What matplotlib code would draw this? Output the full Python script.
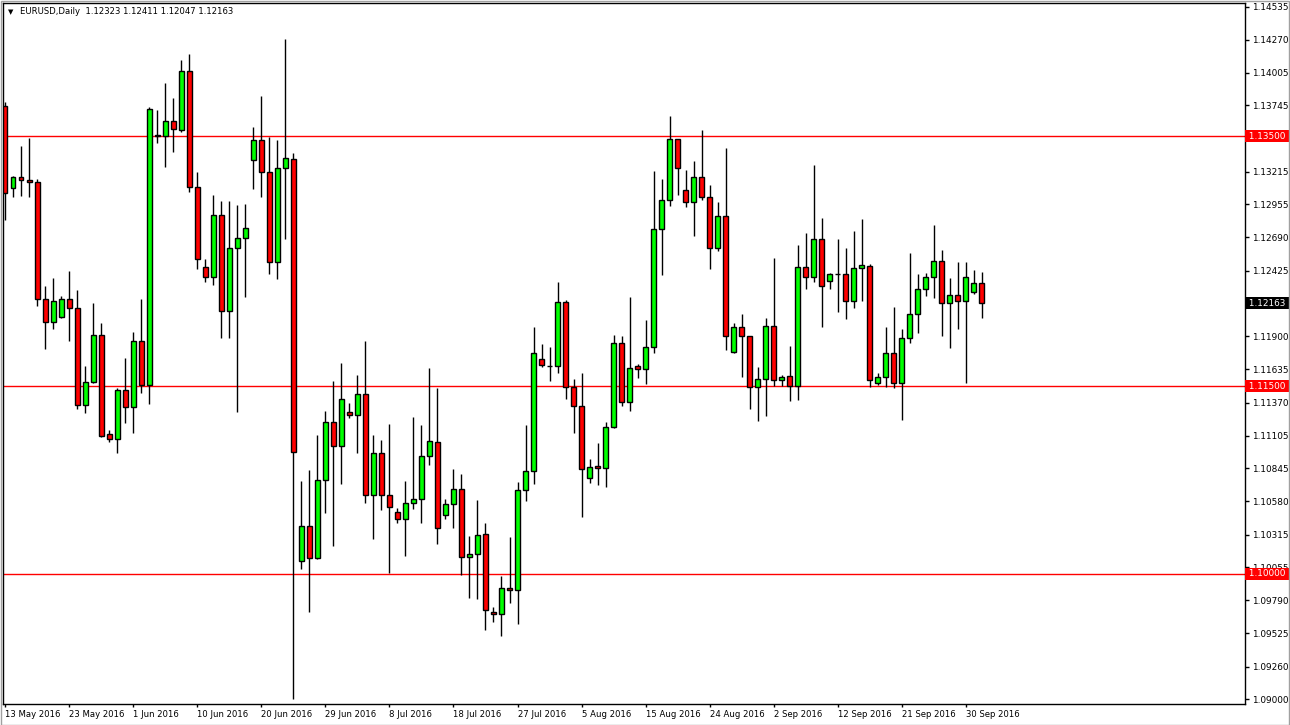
import matplotlib
matplotlib.use("Agg")
import matplotlib.pyplot as plt
from matplotlib.patches import Rectangle

# ---- data (EURUSD daily) ----
opens = [1.13740, 1.13082, 1.13170, 1.13148, 1.13130, 1.12195, 1.12011, 1.12056, 1.12195, 1.12123,
         1.11348, 1.11534, 1.11910, 1.11116, 1.11079, 1.11470, 1.11332, 1.11864, 1.11508, 1.13506,
         1.13502, 1.13620, 1.13548, 1.14017, 1.13090, 1.12452, 1.12376, 1.12872, 1.12100, 1.12602,
         1.12687, 1.13306, 1.13466, 1.13210, 1.12493, 1.13247, 1.13315, 1.10104, 1.10386, 1.10125,
         1.10749, 1.11215, 1.11020, 1.11292, 1.11268, 1.11438, 1.10629, 1.10964, 1.10629, 1.10493,
         1.10437, 1.10565, 1.10597, 1.10940, 1.11052, 1.10469, 1.10557, 1.10677, 1.10133, 1.10157,
         1.10320, 1.09694, 1.09678, 1.09886, 1.09870, 1.10669, 1.10821, 1.11716, 1.11662, 1.11662,
         1.12171, 1.11492, 1.11340, 1.10765, 1.10861, 1.10845, 1.11172, 1.11843, 1.11372, 1.11660,
         1.11636, 1.11811, 1.12754, 1.12989, 1.13474, 1.13066, 1.12970, 1.13170, 1.13010, 1.12603,
         1.12858, 1.11772, 1.11971, 1.11899, 1.11492, 1.11556, 1.11979, 1.11553, 1.11580, 1.11500,
         1.12451, 1.12376, 1.12675, 1.12344, 1.12395, 1.12395, 1.12184, 1.12443, 1.12459, 1.11524,
         1.11572, 1.11764, 1.11524, 1.11883, 1.12075, 1.12275, 1.12371, 1.12499, 1.12163, 1.12227,
         1.12179, 1.12256, 1.12323]

highs = [1.13774, 1.13180, 1.13420, 1.13482, 1.13154, 1.12301, 1.12363, 1.12221, 1.12421, 1.12269,
         1.11662, 1.12168, 1.12003, 1.11151, 1.11484, 1.11724, 1.11931, 1.12197, 1.13729, 1.13708,
         1.13926, 1.13801, 1.14107, 1.14155, 1.13210, 1.12520, 1.13029, 1.12981, 1.12981, 1.12947,
         1.12957, 1.13569, 1.13818, 1.13494, 1.13466, 1.14279, 1.13367, 1.10743, 1.10831, 1.11111,
         1.11302, 1.11542, 1.11688, 1.11364, 1.11590, 1.11862, 1.11108, 1.11071, 1.11199, 1.10525,
         1.10743, 1.11257, 1.11191, 1.11644, 1.11484, 1.10597, 1.10841, 1.10797, 1.10304, 1.10591,
         1.10405, 1.09739, 1.09984, 1.10298, 1.10735, 1.11191, 1.11971, 1.11838, 1.11811, 1.12331,
         1.12189, 1.11556, 1.11604, 1.10917, 1.11047, 1.11217, 1.11907, 1.11902, 1.12211, 1.11678,
         1.12030, 1.13223, 1.13156, 1.13660, 1.13474, 1.13228, 1.13300, 1.13548, 1.13108, 1.12975,
         1.13402, 1.12008, 1.12078, 1.11899, 1.11656, 1.12043, 1.12527, 1.11590, 1.11822, 1.12629,
         1.12722, 1.13268, 1.12842, 1.12408, 1.12677, 1.12603, 1.12743, 1.12834, 1.12477, 1.11604,
         1.11976, 1.12136, 1.11958, 1.12563, 1.12395, 1.12403, 1.12789, 1.12589, 1.12363, 1.12491,
         1.12496, 1.12429, 1.12411]

lows = [1.12829, 1.13010, 1.13021, 1.13010, 1.12142, 1.11795, 1.11955, 1.12048, 1.11864, 1.11316,
        1.11284, 1.11524, 1.11097, 1.11057, 1.10969, 1.11209, 1.11129, 1.11444, 1.11356, 1.13442,
        1.13250, 1.13375, 1.13534, 1.13050, 1.12437, 1.12332, 1.12312, 1.11882, 1.11888, 1.11298,
        1.12213, 1.13073, 1.13015, 1.12394, 1.12360, 1.12681, 1.09003, 1.10037, 1.09699, 1.10117,
        1.10485, 1.10226, 1.10717, 1.11244, 1.10964, 1.10570, 1.10282, 1.10511, 1.10010, 1.10410,
        1.10146, 1.10517, 1.10410, 1.10871, 1.10237, 1.10437, 1.10365, 1.09990, 1.09806, 1.09798,
        1.09552, 1.09619, 1.09504, 1.09771, 1.09600, 1.10586, 1.10717, 1.11652, 1.11545, 1.11609,
        1.11401, 1.11129, 1.10453, 1.10725, 1.10715, 1.10698, 1.11164, 1.11345, 1.11305, 1.11564,
        1.11518, 1.11768, 1.12389, 1.12941, 1.13029, 1.12935, 1.12701, 1.12989, 1.12437, 1.12583,
        1.11790, 1.11764, 1.11572, 1.11316, 1.11225, 1.11265, 1.11505, 1.11502, 1.11385, 1.11390,
        1.12275, 1.12336, 1.11976, 1.12275, 1.12096, 1.12035, 1.12128, 1.12184, 1.11492, 1.11510,
        1.11497, 1.11484, 1.11231, 1.11843, 1.11928, 1.12224, 1.12203, 1.11904, 1.11808, 1.11958,
        1.11524, 1.12235, 1.12047]

closes = [1.13042, 1.13170, 1.13146, 1.13130, 1.12195, 1.12011, 1.12184, 1.12195, 1.12123, 1.11348,
          1.11537, 1.11910, 1.11105, 1.11076, 1.11470, 1.11332, 1.11864, 1.11508, 1.13713, 1.13498,
          1.13620, 1.13554, 1.14017, 1.13090, 1.12515, 1.12376, 1.12869, 1.12100, 1.12602, 1.12687,
          1.12762, 1.13466, 1.13210, 1.12493, 1.13247, 1.13323, 1.10976, 1.10386, 1.10125, 1.10749,
          1.11215, 1.11020, 1.11396, 1.11268, 1.11438, 1.10629, 1.10964, 1.10629, 1.10533, 1.10437,
          1.10565, 1.10597, 1.10940, 1.11063, 1.10365, 1.10557, 1.10677, 1.10133, 1.10157, 1.10312,
          1.09712, 1.09678, 1.09886, 1.09870, 1.10669, 1.10821, 1.11764, 1.11668, 1.11662, 1.12171,
          1.11492, 1.11340, 1.10837, 1.10857, 1.10845, 1.11172, 1.11843, 1.11372, 1.11644, 1.11636,
          1.11811, 1.12754, 1.12989, 1.13474, 1.13242, 1.12970, 1.13170, 1.13010, 1.12603, 1.12858,
          1.11904, 1.11971, 1.11899, 1.11492, 1.11556, 1.11979, 1.11548, 1.11572, 1.11500, 1.12451,
          1.12376, 1.12675, 1.12304, 1.12395, 1.12395, 1.12184, 1.12443, 1.12467, 1.11553, 1.11572,
          1.11764, 1.11524, 1.11883, 1.12075, 1.12275, 1.12371, 1.12499, 1.12163, 1.12227, 1.12179,
          1.12371, 1.12323, 1.12163]

date_labels = ["13 May 2016", "23 May 2016", "1 Jun 2016", "10 Jun 2016", "20 Jun 2016",
               "29 Jun 2016", "8 Jul 2016", "18 Jul 2016", "27 Jul 2016", "5 Aug 2016",
               "15 Aug 2016", "24 Aug 2016", "2 Sep 2016", "12 Sep 2016", "21 Sep 2016",
               "30 Sep 2016"]
bars_per_label = 8

# price grid of the right scale; those hidden behind the boxed labels carry no text
price_ticks = [1.14535, 1.14270, 1.14005, 1.13745, 1.13480, 1.13215, 1.12955, 1.12690, 1.12425,
               1.12160, 1.11900, 1.11635, 1.11370, 1.11105, 1.10845, 1.10580, 1.10315, 1.10055,
               1.09790, 1.09525, 1.09260, 1.09000]
hidden_ticks = [1.13480, 1.12160]
levels = [1.13500, 1.11500, 1.10000]
symbol_title = "EURUSD,Daily"

# ---- figure ----
W, H = 1290, 725
fig = plt.figure(figsize=(W / 100, H / 100), dpi=100)
fig.patch.set_facecolor("white")
L, R, T, B = 3, 1245, 3, 704
ax = fig.add_axes([L / W, 1 - B / H, (R - L) / W, (B - T) / H])
ax.set_facecolor("white")

n = len(opens)
xs = list(range(n))
px_per_bar = 8.008
ax.set_xlim((L - 5) / px_per_bar, (R - 5) / px_per_bar)
ax.set_ylim(1.08961, 1.14563)

# level lines
for lv in levels:
    ax.axhline(lv, color="#ff0000", lw=1.0, zorder=1)

# wicks
ax.vlines(xs, lows, highs, color="black", lw=1.0, zorder=2)

# bodies
bw = 0.62
for i in xs:
    o, c = opens[i], closes[i]
    lo = min(o, c)
    h = abs(c - o)
    if h < 1e-7:
        ax.hlines(o, i - bw / 2, i + bw / 2, color="black", lw=1.0, zorder=3)
        continue
    fc = "#00ff00" if c > o else "#ff0000"
    ax.add_patch(Rectangle((i - bw / 2, lo), bw, h, facecolor=fc,
                           edgecolor="black", lw=1.0, zorder=3))

# frame
for s in ax.spines.values():
    s.set_color("black")
    s.set_linewidth(1.0)

FS = 6.4

# y axis on right
ax.yaxis.tick_right()
ax.set_yticks(price_ticks)
ax.set_yticklabels(["" if p in hidden_ticks else f"{p:.5f}" for p in price_ticks])
ax.tick_params(axis="y", direction="out", length=3, width=1, pad=2,
               labelsize=FS, colors="black")

# x axis dates
tick_pos = [k * bars_per_label for k in range(len(date_labels))]
ax.set_xticks(tick_pos)
ax.set_xticklabels(date_labels)
ax.tick_params(axis="x", direction="out", length=2, width=1, pad=2,
               labelsize=6.1, colors="black")
for lab in ax.get_xticklabels():
    lab.set_ha("left")

# boxed price labels
ytr = ax.get_yaxis_transform()
for lv in levels:
    ax.text(1.0008, lv, f" {lv:.5f} ", transform=ytr, ha="left", va="center",
            fontsize=FS, color="white", clip_on=False, zorder=10,
            bbox=dict(boxstyle="square,pad=0.16", fc="#ff0000", ec="none"))
last = closes[-1]
ax.text(1.0008, last, f" {last:.5f} ", transform=ytr, ha="left", va="center",
        fontsize=FS, color="white", clip_on=False, zorder=10,
        bbox=dict(boxstyle="square,pad=0.16", fc="black", ec="none"))

# header
ax.text((8 - L) / (R - L), (B - 12) / (B - T), "\u25BC", transform=ax.transAxes,
        ha="left", va="center", fontsize=5, color="black")
ax.text((20 - L) / (R - L), (B - 12) / (B - T),
        f"{symbol_title}  {opens[-1]:.5f} {highs[-1]:.5f} {lows[-1]:.5f} {closes[-1]:.5f}",
        transform=ax.transAxes, ha="left", va="center", fontsize=6.1, color="black")

# outer gray border
fig.patches.append(Rectangle((0.5 / W, 0.5 / H), 1 - 1.5 / W, 1 - 1.5 / H,
                             transform=fig.transFigure, fill=False,
                             edgecolor="#a0a0a0", lw=1.0))

fig.savefig("out.png", dpi=100, facecolor="white")
